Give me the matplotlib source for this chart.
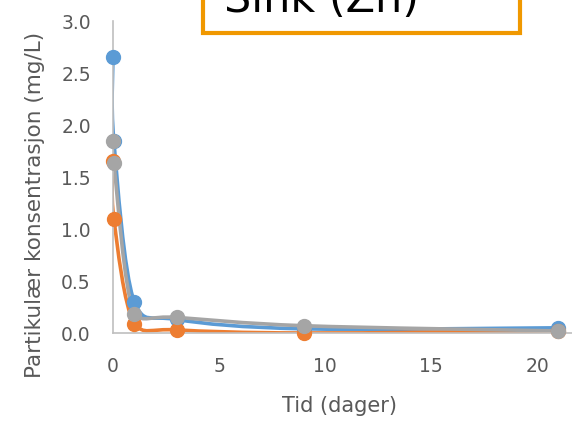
import numpy as np
import matplotlib.pyplot as plt
from matplotlib.path import Path
from matplotlib.patches import PathPatch, Rectangle

plt.rcParams['font.family'] = ['DejaVu Sans']

# tid i dager (0 og 1 time ved start)
tid = [0, 0.04, 1, 3, 9, 21]
serie_bla = [2.65, 1.85, 0.30, 0.13, 0.04, 0.05]
serie_oransje = [1.65, 1.10, 0.09, 0.03, 0.00, 0.02]
serie_gra = [1.85, 1.63, 0.18, 0.15, 0.07, 0.02]

farger = ['#5B9BD5', '#ED7D31', '#A5A5A5']
tittel = 'Sink (Zn)'
xticks = [0, 5, 10, 15, 20]
yticks = [0.0, 0.5, 1.0, 1.5, 2.0, 2.5, 3.0]


def glatt_kurve(ax, x, y, color):
    # glatt linje: kubiske bezier-segmenter mellom punktene
    pts_disp = ax.transData.transform(np.column_stack([x, y]).astype(float))
    n = len(pts_disp)
    verts = [pts_disp[0]]
    codes = [Path.MOVETO]
    for i in range(n - 1):
        p0 = pts_disp[max(i - 1, 0)]
        p1 = pts_disp[i]
        p2 = pts_disp[i + 1]
        p3 = pts_disp[min(i + 2, n - 1)]
        c1 = p1 + (p2 - p0) / 6.0
        c2 = p2 - (p3 - p1) / 6.0
        lo, hi = min(p1[1], p2[1]) - 6, max(p1[1], p2[1]) + 6
        c1[1] = np.clip(c1[1], lo, hi)
        c2[1] = np.clip(c2[1], lo, hi)
        verts += [c1, c2, p2]
        codes += [Path.CURVE4] * 3
    patch = PathPatch(Path(verts, codes), facecolor='none', edgecolor=color,
                      lw=2.6, transform=None, capstyle='round', joinstyle='round')
    ax.add_patch(patch)


fig = plt.figure(figsize=(5.72, 4.23), dpi=100)
ax = fig.add_axes([113 / 572, 1 - 333 / 423, (572 - 113) / 572, (333 - 21) / 423])
ax.set_xlim(0, 21.65)
ax.set_ylim(0, 3.0)

for serie, farge in zip([serie_bla, serie_oransje, serie_gra], farger):
    glatt_kurve(ax, tid, serie, farge)
    ax.plot(tid, serie, 'o', color=farge, markersize=10, clip_on=False, zorder=3)

for side in ['top', 'right']:
    ax.spines[side].set_visible(False)
for side in ['left', 'bottom']:
    ax.spines[side].set_color('#BFBFBF')
    ax.spines[side].set_linewidth(1.2)

ax.set_xticks(xticks)
ax.set_yticks(yticks)
ax.set_yticklabels([f'{v:.1f}' for v in yticks])
ax.tick_params(length=0, labelsize=13.5, colors='#595959')
ax.tick_params(axis='y', pad=16)
ax.tick_params(axis='x', pad=17)

fig.text(339 / 572, 1 - 406 / 423, 'Tid (dager)', ha='center', va='center',
         fontsize=15, color='#595959')
fig.text(35 / 572, 1 - 205 / 423, 'Partikulær konsentrasjon (mg/L)', ha='center',
         va='center', rotation=90, fontsize=15.5, color='#595959')

# tittelboks, delvis utenfor øvre kant
boks = Rectangle((203 / 572, 1 - 33 / 423), (520 - 203) / 572, 60 / 423,
                 transform=fig.transFigure, facecolor='white', edgecolor='#F09800',
                 lw=3.0, zorder=5)
fig.patches.append(boks)
fig.text(224 / 572, 1 - 12 / 423, tittel, ha='left', va='baseline',
         fontsize=31, color='black', zorder=6)

fig.savefig('out.png', dpi=100)
